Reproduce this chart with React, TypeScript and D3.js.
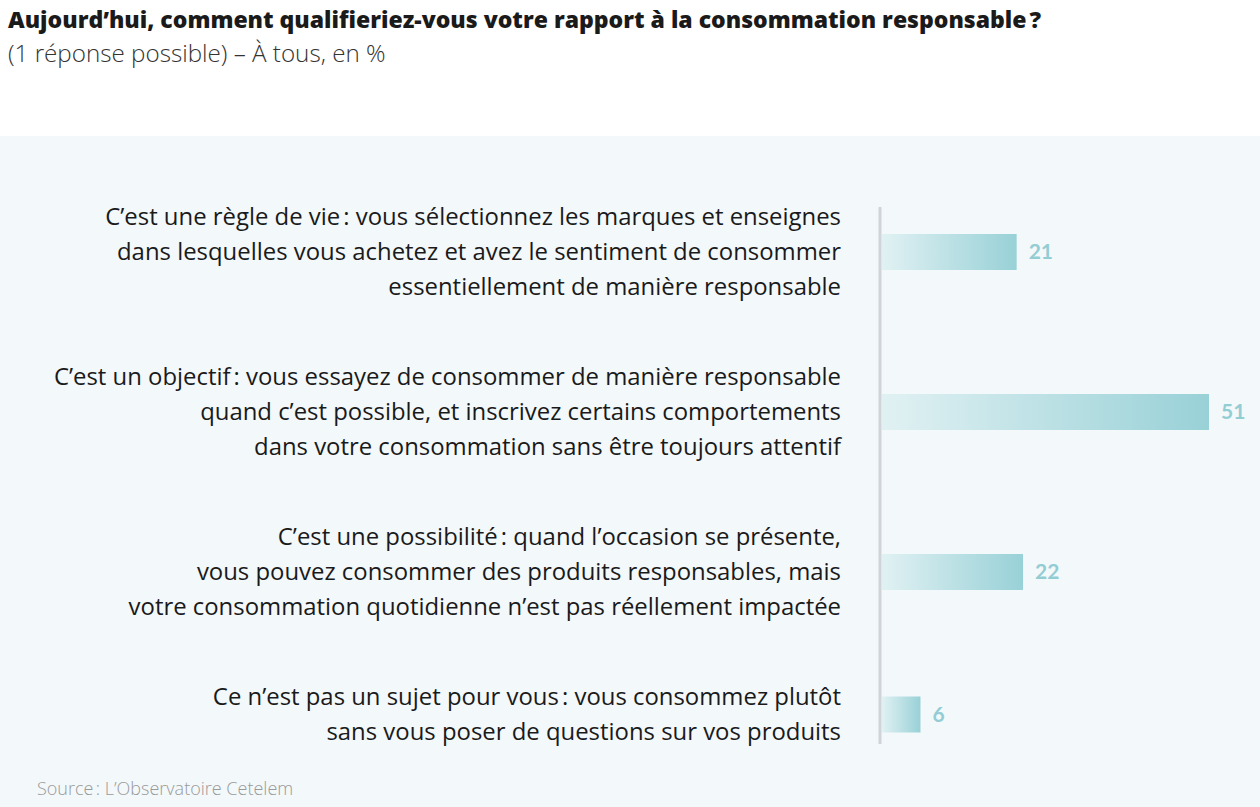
import React from "react";
import * as d3 from "d3";

const title = "Aujourd’hui, comment qualifieriez-vous votre rapport à la consommation responsable\u202F?";
const subtitle = "(1 réponse possible) – À tous, en %";
const source = "Source\u202F: L’Observatoire Cetelem";

const categories: string[][] = [
  [
    "C’est une règle de vie\u202F: vous sélectionnez les marques et enseignes",
    "dans lesquelles vous achetez et avez le sentiment de consommer",
    "essentiellement de manière responsable",
  ],
  [
    "C’est un objectif\u202F: vous essayez de consommer de manière responsable",
    "quand c’est possible, et inscrivez certains comportements",
    "dans votre consommation sans être toujours attentif",
  ],
  [
    "C’est une possibilité\u202F: quand l’occasion se présente,",
    "vous pouvez consommer des produits responsables, mais",
    "votre consommation quotidienne n’est pas réellement impactée",
  ],
  [
    "Ce n’est pas un sujet pour vous\u202F: vous consommez plutôt",
    "sans vous poser de questions sur vos produits",
  ],
];
const values = [21, 51, 22, 6];

const W = 1260;
const H = 807;
const FONT = "'Open Sans', 'Noto Sans', sans-serif";
const NUMFONT = "Lato, 'Open Sans', sans-serif";

export default function App() {
  const ids = categories.map((_, i) => String(i));
  const groupY = d3.scalePoint<string>().domain(ids).range([217, 697]);
  const x = d3.scaleLinear().domain([0, 51]).range([882, 1209]);
  const lineH = 35;
  const barH = 36;
  const labelRight = 841;

  return (
    <div style={{ position: "absolute", left: 0, top: 0 }}>
      <svg width={W} height={H} style={{ display: "block" }}>
        <defs>
          <linearGradient id="barGrad" x1="0" x2="1" y1="0" y2="0">
            <stop offset="0%" stopColor="#e1f1f3" />
            <stop offset="100%" stopColor="#98d1d7" />
          </linearGradient>
        </defs>
        <rect x={0} y={0} width={W} height={H} fill="#ffffff" />
        <rect x={0} y={136} width={W} height={H - 136} fill="#f3f8fb" />
        <text x={8} y={28} fontFamily={FONT} fontWeight={800} fontSize={23} fill="#1a1a1a">
          {title}
        </text>
        <text x={8} y={62} fontFamily={FONT} fontWeight={300} fontSize={24.2} fill="#333">
          {subtitle}
        </text>
        {categories.map((lines, i) => {
          const top = groupY(String(i))!;
          const center = top + ((lines.length - 1) * lineH) / 2;
          const x0 = x(0);
          const x1 = x(values[i]);
          return (
            <g key={i}>
              {lines.map((ln, j) => (
                <text
                  key={j}
                  x={labelRight}
                  y={top + j * lineH}
                  dy="0.35em"
                  textAnchor="end"
                  fontFamily={FONT}
                  fontSize={23.9}
                  fill="#1a1a1a"
                >
                  {ln}
                </text>
              ))}
              <rect x={x0} y={center - barH / 2} width={x1 - x0} height={barH} fill="url(#barGrad)" />
              <text
                x={x1 + 12}
                y={center}
                dy="0.35em"
                fontFamily={NUMFONT}
                fontWeight={700}
                fontSize={21}
                fill="#93cdd4"
              >
                {values[i]}
              </text>
            </g>
          );
        })}
        <line x1={880} x2={880} y1={207} y2={744} stroke="#d0d4d8" strokeWidth={3} />
        <text x={37} y={789} dy="0.35em" fontFamily={FONT} fontWeight={300} fontSize={18} fill="#9a9a9a">
          {source}
        </text>
      </svg>
    </div>
  );
}
